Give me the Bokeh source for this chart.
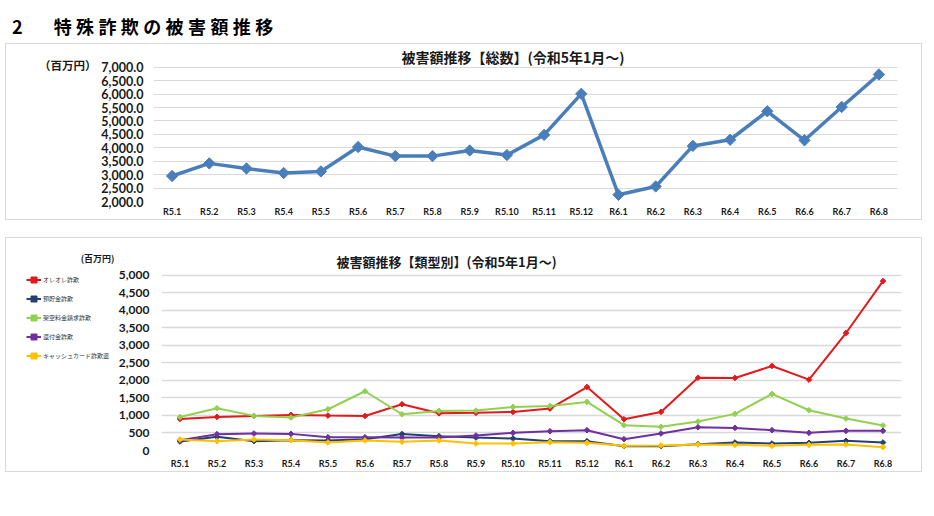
from bokeh.plotting import figure
from bokeh.layouts import column, row
from bokeh.models import (Range1d, FixedTicker, NumeralTickFormatter,
                          Label, Legend, LegendItem, Div)
from bokeh.embed import file_html
from bokeh.resources import INLINE
import math

categories = ["R5.1", "R5.2", "R5.3", "R5.4", "R5.5", "R5.6", "R5.7", "R5.8", "R5.9", "R5.10",
              "R5.11", "R5.12", "R6.1", "R6.2", "R6.3", "R6.4", "R6.5", "R6.6", "R6.7", "R6.8"]

total = [2950, 3420, 3230, 3060, 3120, 4030, 3690, 3690, 3900, 3730,
         4480, 6010, 2250, 2560, 4070, 4300, 5360, 4280, 5520, 6730]
top_ticks = [2000, 2500, 3000, 3500, 4000, 4500, 5000, 5500, 6000, 6500, 7000]

ore = [900, 958, 987, 1015, 996, 985, 1320, 1060, 1075, 1100,
       1195, 1810, 892, 1100, 2075, 2068, 2410, 2020, 3350, 4830]
yochokin = [256, 389, 266, 294, 285, 323, 470, 408, 370, 342,
            266, 266, 123, 123, 180, 228, 199, 218, 275, 228]
kaku = [955, 1205, 987, 939, 1176, 1689, 1034, 1129, 1138, 1243,
        1271, 1385, 721, 674, 825, 1044, 1613, 1148, 911, 712]
kanpu = [294, 465, 484, 474, 379, 379, 370, 370, 427, 503,
         550, 579, 323, 484, 664, 645, 579, 503, 560, 560]
cash = [315, 266, 313, 294, 228, 285, 247, 285, 199, 199,
        237, 218, 133, 142, 171, 161, 133, 161, 171, 95]
bottom_ticks = [0, 500, 1000, 1500, 2000, 2500, 3000, 3500, 4000, 4500, 5000]

series_names = ["オレオレ詐欺", "預貯金詐欺", "架空料金請求詐欺", "還付金詐欺", "キャッシュカード詐欺盗"]
series_values = [ore, yochokin, kaku, kanpu, cash]
series_colors = ["#e3191c", "#24406e", "#92d050", "#7030a0", "#ffc000"]

top_title = "被害額推移【総数】(令和5年1月～)"
bottom_title = "被害額推移【類型別】(令和5年1月～)"
unit_top = "（百万円）"
unit_bottom = "(百万円)"
heading_num = "2"
heading_text = "特殊詐欺の被害額推移"

xs = list(range(len(categories)))
label_map = {i: c for i, c in enumerate(categories)}
JP = "Noto Sans CJK JP"
NUM = "Lato"
GRID = "#d9d9d9"
PANEL_BORDER = {"border": "1px solid #d9d9d9"}


def style_axes(p, ysize, ystand, xstand):
    for ax in (p.xaxis[0], p.yaxis[0]):
        ax.axis_line_color = None
        ax.major_tick_line_color = None
        ax.minor_tick_line_color = None
        ax.major_tick_out = 0
        ax.minor_tick_out = 0
        ax.major_label_text_font = NUM
        ax.major_label_text_font_style = "bold"
        ax.major_label_text_color = "#1a1a1a"
    p.yaxis.major_label_text_font_size = ysize
    p.yaxis.major_label_standoff = ystand
    p.xaxis.major_label_text_font_size = "9px"
    p.xaxis.major_label_standoff = xstand
    p.xaxis.ticker = FixedTicker(ticks=xs)
    p.xaxis.major_label_overrides = label_map
    p.outline_line_color = None
    p.xgrid.grid_line_color = None
    p.ygrid.grid_line_color = GRID


def side_fig(w, h):
    f = figure(width=w, height=h, x_range=Range1d(0, w), y_range=Range1d(0, h),
               x_axis_type=None, y_axis_type=None, min_border=0,
               output_backend="svg", toolbar_location=None)
    f.outline_line_color = None
    return f


# ---------- heading ----------
div = Div(text=(f'<div style="position:absolute;left:12px;top:13px;font-family:\'{JP}\';'
                f'font-weight:bold;font-size:18px;line-height:26px;white-space:nowrap;color:#000">'
                f'<span>{heading_num}</span>'
                f'<span style="margin-left:31px;letter-spacing:4.4px">{heading_text}</span></div>'),
          width=934, height=43, margin=(0, 0, 0, 0))

# ---------- top chart ----------
left1 = side_fig(92, 172)
left1.add_layout(Label(x=90, y=149, text=unit_top, text_font=JP, text_font_style="bold",
                       text_font_size="11.5px", text_baseline="middle", text_align="right",
                       text_color="#1a1a1a"))

p1 = figure(frame_width=744, frame_height=157,
            min_border_left=55, min_border_right=24, min_border_top=0, min_border_bottom=15,
            x_range=Range1d(-0.5, len(categories) - 0.5), y_range=Range1d(2000, 7847),
            output_backend="svg", toolbar_location=None)
style_axes(p1, "12.5px", 10, 4)
p1.yaxis.ticker = FixedTicker(ticks=top_ticks)
p1.yaxis.formatter = NumeralTickFormatter(format="0,0.0")
p1.ygrid.grid_line_width = 1

p1.line(xs, total, line_color="#4a7ebb", line_width=3.5)
p1.scatter(xs, total, marker="square", angle=math.pi / 4, size=8,
           fill_color="#4a7ebb", line_color="#4a7ebb")
p1.add_layout(Label(x=-0.5, y=7000, x_offset=248, y_offset=10, text=top_title,
                    text_font=JP, text_font_style="bold", text_font_size="14px",
                    text_baseline="middle", text_align="left", text_color="#1a1a1a"))

panel1 = row(left1, p1, spacing=0, margin=(0, 0, 0, 5), styles=PANEL_BORDER)

# ---------- bottom chart ----------
left2 = side_fig(109, 230)
left2.add_layout(Label(x=108, y=208, text=unit_bottom, text_font=JP, text_font_style="bold",
                       text_font_size="9px", text_baseline="middle", text_align="right",
                       text_color="#1a1a1a"))

p2 = figure(frame_width=740, frame_height=212,
            min_border_left=45, min_border_right=20, min_border_top=0, min_border_bottom=18,
            x_range=Range1d(-0.5, len(categories) - 0.5), y_range=Range1d(0, 6045),
            output_backend="svg", toolbar_location=None)
style_axes(p2, "12px", 12, 7)
p2.yaxis.ticker = FixedTicker(ticks=bottom_ticks)
p2.yaxis.formatter = NumeralTickFormatter(format="0,0")
p2.ygrid.grid_line_width = 1.5

items = []
for name, vals, col in zip(series_names, series_values, series_colors):
    p2.line(xs, vals, line_color=col, line_width=2)
    p2.scatter(xs, vals, marker="square", angle=math.pi / 4, size=4,
               fill_color=col, line_color=col)
    # legend swatches: renderers in the side figure holding one undrawable point
    ln = left2.line([math.nan], [math.nan], line_color=col, line_width=2)
    mk = left2.scatter([math.nan], [math.nan], marker="square", angle=math.pi / 4, size=4,
                       fill_color=col, line_color=col)
    items.append(LegendItem(label=name, renderers=[ln, mk]))

legend = Legend(items=items, location=(20, 82), orientation="vertical",
                glyph_width=15, glyph_height=19, label_height=19, spacing=0,
                padding=0, margin=0, label_standoff=2,
                label_text_font=JP, label_text_font_size="6px", label_text_color="#333333",
                border_line_color=None, background_fill_alpha=0)
left2.add_layout(legend)

p2.add_layout(Label(x=-0.5, y=5000, x_offset=175, y_offset=14, text=bottom_title,
                    text_font=JP, text_font_style="bold", text_font_size="13px",
                    text_baseline="middle", text_align="left", text_color="#1a1a1a"))

panel2 = row(left2, p2, spacing=0, margin=(17, 0, 0, 5), styles=PANEL_BORDER)

page = column(div, panel1, panel2, spacing=0)
open("out.html", "w").write(file_html(page, INLINE))
